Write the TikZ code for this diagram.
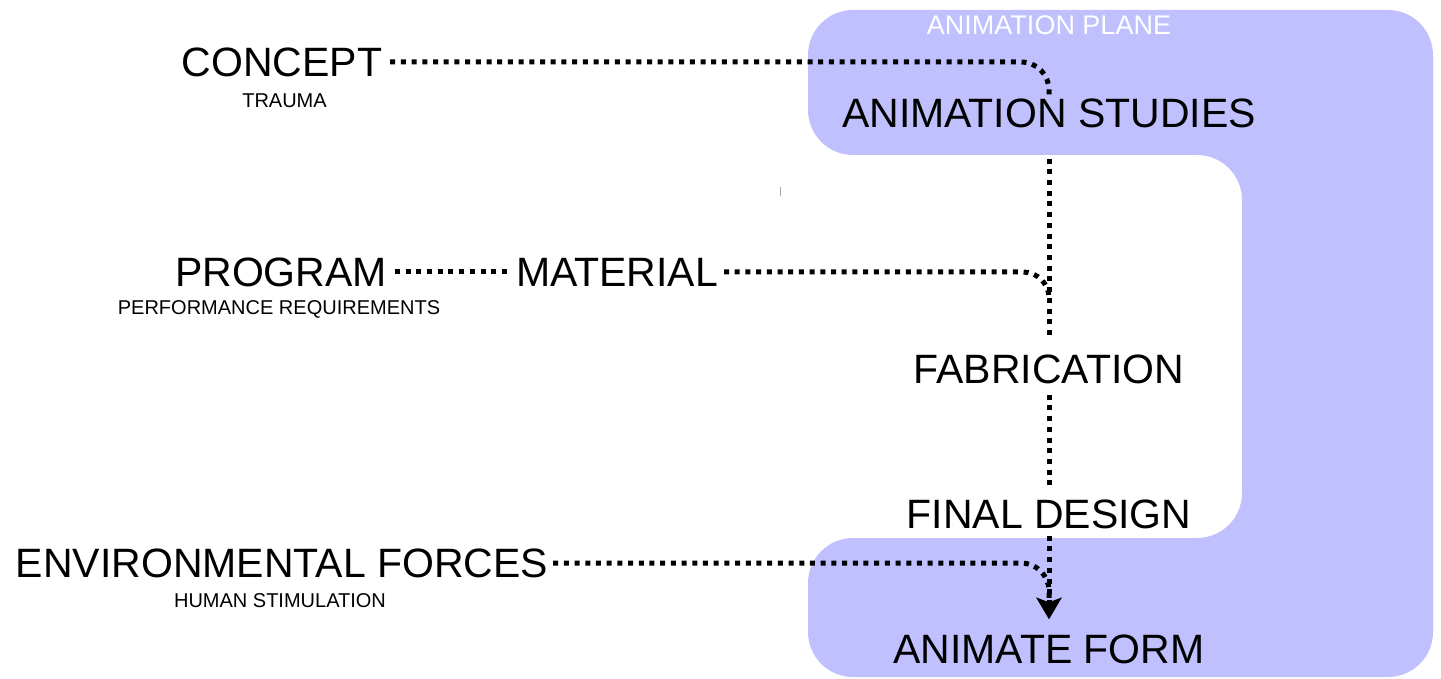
\documentclass[tikz,border=0pt]{standalone}
\usepackage{fontspec}
\setmainfont{Liberation Sans}
\definecolor{planefill}{RGB}{192,192,255}
\tikzset{
  bigl/.style={font=\fontsize{41}{49}\selectfont, inner sep=0pt, outer sep=0pt,
    text height=29.4pt, text depth=0pt},
  smalll/.style={font=\fontsize{20}{24}\selectfont, inner sep=0pt, outer sep=0pt,
    text height=14.3pt, text depth=0pt},
  planel/.style={font=\fontsize{27}{32}\selectfont, text=white, inner sep=0pt,
    text height=19.3pt, text depth=0pt},
  dotline/.style={line width=5pt, dash pattern=on 5pt off 5.7pt},
}
\begin{document}
\begin{tikzpicture}[x=1pt,y=-1pt]
\useasboundingbox (0,0) rectangle (1441,679);

% animation plane: a C-shaped band around the right-hand column
\fill[planefill, rounded corners=45pt]
  (808,10) -- (1433,10) -- (1433,677) -- (808,677) -- (808,538)
  -- (1242,538) -- (1242,155) -- (808,155) -- cycle;

% small stray tick
\draw[gray!70, line width=1.2pt] (780.5,187) -- (780.5,196);

% left-hand inputs
\node[bigl]   (concept)  at (282,62)    {CONCEPT};
\node[smalll] (trauma)   at (284.5,100) {TRAUMA};
\node[bigl]   (program)  at (281,272)   {PROGRAM};
\node[smalll] (perf)     at (279,307)   {PERFORMANCE REQUIREMENTS};
\node[bigl]   (material) at (617,272)   {MATERIAL};
\node[bigl]   (env)      at (282,563)   {ENVIRONMENTAL FORCES};
\node[smalll] (human)    at (280,600)   {HUMAN STIMULATION};

% main column
\node[planel] (plane)    at (1049,25)   {ANIMATION PLANE};
\node[bigl]   (studies)  at (1049,113)  {ANIMATION STUDIES};
\node[bigl]   (fabrication) at (1049,369) {FABRICATION};
\node[bigl]   (final)    at (1049,514)  {FINAL DESIGN};
\node[bigl]   (animate)  at (1049,649)  {ANIMATE FORM};

% merge points on the main column
\coordinate (mjoin) at (1049,300);
\coordinate (ejoin) at (1049,598);
\coordinate (tip) at ([yshift=15pt]animate.north);

% connectors
\draw[dotline, rounded corners=28pt, shorten <=8pt, shorten >=4pt]
  (concept.east) -| (studies.north);
\draw[dotline, shorten <=31pt, shorten >=16pt] (studies.south) -- (fabrication.north);
\draw[dotline, shorten <=8pt, shorten >=6pt] (program.east) -- (material.west);
\draw[dotline, rounded corners=26pt, shorten <=6pt] (material.east) -| (mjoin);
\draw[dotline, shorten <=11pt, shorten >=11pt] (fabrication.south) -- (final.north);
\draw[dotline, rounded corners=28pt, shorten <=5pt] (env.east) -| (ejoin);
% final design to animate form: dotted shaft with a solid barbed head
\draw[dotline, shorten <=7pt, shorten >=30pt] (final.south) -- (animate.north);
\fill (tip) -- ++(-13,-22) -- ++(13,5) -- ++(13,-5) -- cycle;
\end{tikzpicture}
\end{document}
